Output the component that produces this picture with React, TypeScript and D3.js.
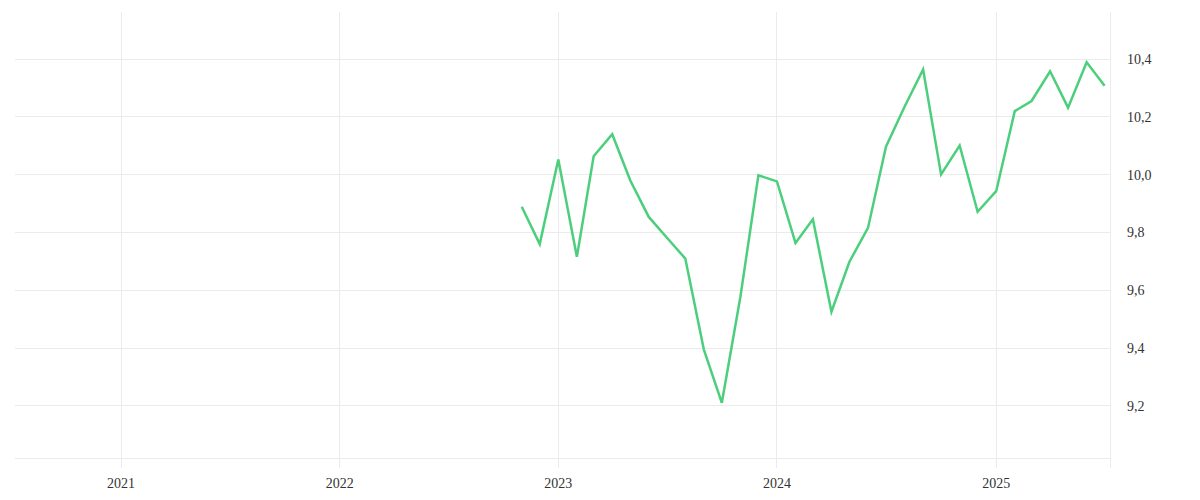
import React, { useEffect, useRef } from "react";
import * as d3 from "d3";

// monthly values, Nov 2022 .. Jul 2025
const months: string[] = [
  "2022-11-01", "2022-12-01",
  "2023-01-01", "2023-02-01", "2023-03-01", "2023-04-01", "2023-05-01", "2023-06-01",
  "2023-07-01", "2023-08-01", "2023-09-01", "2023-10-01", "2023-11-01", "2023-12-01",
  "2024-01-01", "2024-02-01", "2024-03-01", "2024-04-01", "2024-05-01", "2024-06-01",
  "2024-07-01", "2024-08-01", "2024-09-01", "2024-10-01", "2024-11-01", "2024-12-01",
  "2025-01-01", "2025-02-01", "2025-03-01", "2025-04-01", "2025-05-01", "2025-06-01",
  "2025-07-01",
];
const values: number[] = [
  9.889, 9.760,
  10.053, 9.716, 10.064, 10.140, 9.981, 9.854,
  9.783, 9.710, 9.395, 9.211, 9.578, 9.998,
  9.977, 9.764, 9.846, 9.526, 9.699, 9.816,
  10.097, 10.235, 10.364, 10.001, 10.101, 9.872,
  9.943, 10.220, 10.255, 10.358, 10.232, 10.389,
  10.308,
];
const yearTicks: string[] = ["2021-01-01", "2022-01-01", "2023-01-01", "2024-01-01", "2025-01-01"];
const valueTicks: number[] = [9.2, 9.4, 9.6, 9.8, 10.0, 10.2, 10.4];

const W = 1200;
const H = 500;
const margin = { top: 12, right: 90, bottom: 42, left: 15 };
const gridColor = "#ebebeb";
const lineColor = "#4ccf7c";

const App = () => {
  const ref = useRef<SVGSVGElement | null>(null);

  useEffect(() => {
    if (!ref.current) return;
    const svg = d3.select(ref.current);
    svg.selectAll("*").remove();

    const right = W - margin.right;
    const bottom = H - margin.bottom;
    const x = d3.scaleTime()
      .domain([new Date("2020-07-08"), new Date("2025-07-10")])
      .range([margin.left, right]);
    const y = d3.scaleLinear()
      .domain([9.02, 10.563])
      .range([bottom, margin.top]);

    const data = months.map((m, i) => ({ date: new Date(m), value: values[i] }));

    // horizontal grid
    svg.append("g")
      .selectAll("line")
      .data(valueTicks)
      .enter().append("line")
      .attr("x1", margin.left)
      .attr("x2", right)
      .attr("y1", d => y(d))
      .attr("y2", d => y(d))
      .attr("stroke", gridColor)
      .attr("shape-rendering", "crispEdges");

    // vertical grid, runs past the bottom edge like a tick
    svg.append("g")
      .selectAll("line")
      .data(yearTicks)
      .enter().append("line")
      .attr("x1", d => x(new Date(d)))
      .attr("x2", d => x(new Date(d)))
      .attr("y1", margin.top)
      .attr("y2", bottom + 10)
      .attr("stroke", gridColor)
      .attr("shape-rendering", "crispEdges");

    // bottom + right frame
    svg.append("line")
      .attr("x1", margin.left).attr("x2", right)
      .attr("y1", bottom).attr("y2", bottom)
      .attr("stroke", gridColor)
      .attr("shape-rendering", "crispEdges");
    svg.append("line")
      .attr("x1", right).attr("x2", right)
      .attr("y1", margin.top).attr("y2", bottom + 10)
      .attr("stroke", gridColor)
      .attr("shape-rendering", "crispEdges");

    const fmt = d3.format(".1f");
    svg.append("g")
      .selectAll("text")
      .data(valueTicks)
      .enter().append("text")
      .attr("x", right + 17)
      .attr("y", d => y(d))
      .attr("dy", "0.35em")
      .attr("fill", "#333")
      .style("font-size", "14px")
      .text(d => fmt(d).replace(".", ","));

    svg.append("g")
      .selectAll("text")
      .data(yearTicks)
      .enter().append("text")
      .attr("x", d => x(new Date(d)))
      .attr("y", 488)
      .attr("text-anchor", "middle")
      .attr("fill", "#333")
      .style("font-size", "14px")
      .text(d => d3.timeFormat("%Y")(new Date(d)));

    const line = d3.line<{ date: Date; value: number }>()
      .x(d => x(d.date))
      .y(d => y(d.value));
    svg.append("path")
      .datum(data)
      .attr("fill", "none")
      .attr("stroke", lineColor)
      .attr("stroke-width", 2.5)
      .attr("stroke-linejoin", "miter")
      .attr("d", line);
  }, []);

  return (
    <svg
      ref={ref}
      width={W}
      height={H}
      style={{ position: "absolute", left: 0, top: 0, background: "#fff" }}
    />
  );
};

export default App;
